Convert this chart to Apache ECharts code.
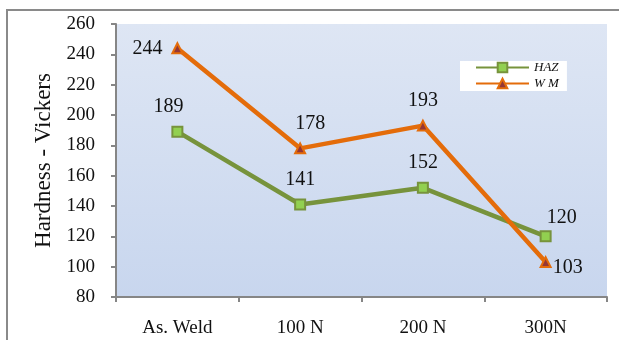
<!DOCTYPE html>
<html>
<head>
<meta charset="utf-8">
<script src="https://cdn.jsdelivr.net/npm/echarts@6/dist/echarts.min.js"></script>
<style>
  html, body { margin: 0; padding: 0; background: #fff; }
  #chart { width: 619px; height: 340px; }
</style>
</head>
<body>
<div id="chart"></div>
<script>
// Hardness measurements per treatment condition
const categories = ['As. Weld', '100 N', '200 N', '300N'];
const hazValues = [189, 141, 152, 120];
const wmValues = [244, 178, 193, 103];
const yTicks = { min: 80, max: 260, step: 20 };

const serif = '"Liberation Serif", "DejaVu Serif", serif';
const chart = echarts.init(document.getElementById('chart'), null, { renderer: 'canvas' });

const labelBase = { show: true, fontFamily: serif, fontSize: 20, color: '#111' };

chart.setOption({
  animation: false,
  backgroundColor: '#fff',
  graphic: [
    // frame edges along top and left
    { type: 'line', shape: { x1: 6, y1: 10, x2: 619, y2: 10 }, style: { stroke: '#8a8a8a', lineWidth: 2 } },
    { type: 'line', shape: { x1: 7, y1: 9, x2: 7, y2: 340 }, style: { stroke: '#8a8a8a', lineWidth: 2 } }
  ],
  grid: {
    left: 116, right: 12, top: 24, bottom: 43,
    show: true,
    borderWidth: 0,
    backgroundColor: new echarts.graphic.LinearGradient(0, 0, 0, 1, [
      { offset: 0, color: '#dee6f4' },
      { offset: 1, color: '#c8d6ee' }
    ])
  },
  legend: {
    left: 460, top: 61,
    orient: 'vertical',
    backgroundColor: '#fff',
    padding: [0, 8, 1, 15],
    itemGap: 3,
    itemWidth: 53, itemHeight: 12,
    textStyle: { fontFamily: serif, fontStyle: 'italic', fontSize: 13, color: '#111', width: 38 },
    data: ['HAZ', 'W M']
  },
  xAxis: {
    type: 'category',
    data: categories,
    boundaryGap: true,
    axisLine: { lineStyle: { color: '#868686', width: 2 } },
    axisTick: { show: true, length: 5, lineStyle: { color: '#868686', width: 2 } },
    axisLabel: { fontFamily: serif, fontSize: 19, color: '#111', margin: 22 },
    splitLine: { show: false }
  },
  yAxis: {
    type: 'value',
    min: yTicks.min, max: yTicks.max, interval: yTicks.step,
    name: 'Hardness - Vickers',
    nameLocation: 'middle',
    nameGap: 54,
    nameRotate: 90,
    nameTextStyle: { fontFamily: serif, fontSize: 23, color: '#111' },
    axisLine: { show: true, lineStyle: { color: '#868686', width: 2 } },
    axisTick: { show: true, length: 5, lineStyle: { color: '#868686', width: 2 } },
    axisLabel: { fontFamily: serif, fontSize: 19, color: '#111', margin: 21 },
    splitLine: { show: false }
  },
  series: [
    {
      name: 'HAZ',
      type: 'line',
      data: hazValues,
      symbol: 'rect',
      symbolSize: 10,
      lineStyle: { color: '#77933c', width: 4.5 },
      itemStyle: { color: '#92d050', borderColor: '#77933c', borderWidth: 2 },
      label: Object.assign({}, labelBase, { position: 'top', distance: 9 }),
      labelLayout: function (p) {
        if (p.dataIndex === 3) return { dx: 16, dy: 6 };
        if (p.dataIndex === 0) return { dx: -9 };
        return {};
      },
      z: 3
    },
    {
      name: 'W M',
      type: 'line',
      data: wmValues,
      symbol: 'triangle',
      symbolSize: 10,
      lineStyle: { color: '#e46c0a', width: 4.5 },
      itemStyle: { color: '#953735', borderColor: '#e46c0a', borderWidth: 2 },
      label: Object.assign({}, labelBase, { position: 'top', distance: 9 }),
      labelLayout: function (p) {
        if (p.dataIndex === 0) return { dx: -30, dy: 25 };
        if (p.dataIndex === 1) return { dx: 10 };
        if (p.dataIndex === 3) return { dx: 22, dy: 31 };
        return {};
      },
      z: 4
    }
  ]
});
</script>
</body>
</html>
